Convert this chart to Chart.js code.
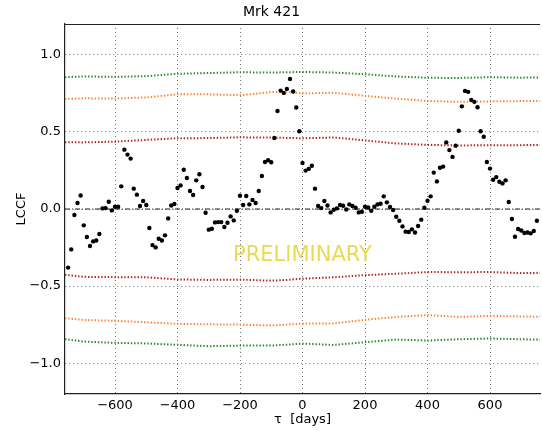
<!DOCTYPE html>
<html><head><meta charset="utf-8">
<script src="https://cdn.jsdelivr.net/npm/chart.js@4/dist/chart.umd.min.js"></script>
<style>html,body{margin:0;padding:0;overflow:hidden;background:#fff}#wrap{width:544px;height:430px}</style>
</head><body><div id="wrap"><canvas id="c" width="544" height="430"></canvas></div>
<script>
const title = "Mrk 421";
const xLabel = "\u03c4  [days]";
const yLabel = "LCCF";
const watermark = "PRELIMINARY";

const lags = [-750,-740,-730,-720,-710,-700,-690,-680,-670,-660,-650,-640,-630,-620,-610,-600,-590,-580,-570,-560,-550,-540,-530,-520,-510,-500,-490,-480,-470,-460,-450,-440,-430,-420,-410,-400,-390,-380,-370,-360,-350,-340,-330,-320,-310,-300,-290,-280,-270,-260,-250,-240,-230,-220,-210,-200,-190,-180,-170,-160,-150,-140,-130,-120,-110,-100,-90,-80,-70,-60,-50,-40,-30,-20,-10,0,10,20,30,40,50,60,70,80,90,100,110,120,130,140,150,160,170,180,190,200,210,220,230,240,250,260,270,280,290,300,310,320,330,340,350,360,370,380,390,400,410,420,430,440,450,460,470,480,490,500,510,520,530,540,550,560,570,580,590,600,610,620,630,640,650,660,670,680,690,700,710,720,730,740,750];
const lccf = [-0.380,-0.262,-0.039,0.039,0.088,-0.106,-0.182,-0.240,-0.210,-0.204,-0.162,0.004,0.006,0.047,-0.009,0.015,0.015,0.147,0.385,0.353,0.327,0.132,0.093,0.019,0.052,0.026,-0.123,-0.234,-0.249,-0.193,-0.204,-0.171,-0.061,0.023,0.032,0.136,0.153,0.255,0.201,0.117,0.091,0.186,0.225,0.143,-0.024,-0.134,-0.128,-0.087,-0.085,-0.085,-0.117,-0.089,-0.048,-0.074,-0.011,0.086,0.026,0.084,0.030,0.058,0.039,0.117,0.214,0.305,0.316,0.303,0.461,0.636,0.768,0.753,0.779,0.844,0.762,0.658,0.504,0.299,0.249,0.260,0.281,0.132,0.019,0.006,0.052,0.023,-0.022,-0.005,0.004,0.026,0.021,-0.003,0.030,0.019,0.008,-0.022,-0.018,0.015,0.010,-0.011,0.015,0.030,0.034,0.082,0.043,0.013,-0.006,-0.050,-0.076,-0.113,-0.147,-0.149,-0.132,-0.152,-0.110,-0.069,0.008,0.054,0.082,0.236,0.179,0.268,0.275,0.432,0.382,0.338,0.411,0.508,0.666,0.766,0.760,0.708,0.695,0.660,0.504,0.469,0.305,0.262,0.190,0.207,0.177,0.166,0.186,0.045,-0.065,-0.180,-0.130,-0.139,-0.156,-0.152,-0.158,-0.143,-0.076];

const bandLags = [-760,-700,-600,-500,-400,-300,-200,-100,-50,0,100,200,300,400,500,600,700,760];
const green99Hi  = [0.855,0.860,0.857,0.862,0.877,0.882,0.887,0.885,0.887,0.889,0.885,0.874,0.860,0.851,0.850,0.855,0.852,0.853];
const orange95Hi = [0.714,0.718,0.716,0.724,0.744,0.744,0.738,0.758,0.760,0.750,0.754,0.734,0.716,0.701,0.695,0.698,0.700,0.701];
const red68Hi    = [0.433,0.432,0.437,0.448,0.459,0.460,0.465,0.463,0.461,0.459,0.464,0.445,0.425,0.416,0.412,0.414,0.414,0.416];
const red68Lo    = [-0.427,-0.440,-0.442,-0.443,-0.457,-0.460,-0.458,-0.465,-0.460,-0.452,-0.443,-0.429,-0.420,-0.409,-0.410,-0.409,-0.416,-0.414];
const orange95Lo = [-0.708,-0.720,-0.725,-0.735,-0.745,-0.748,-0.750,-0.755,-0.750,-0.743,-0.742,-0.719,-0.700,-0.688,-0.700,-0.693,-0.697,-0.699];
const green99Lo  = [-0.844,-0.860,-0.868,-0.872,-0.881,-0.890,-0.886,-0.886,-0.880,-0.873,-0.882,-0.864,-0.847,-0.853,-0.845,-0.840,-0.845,-0.847];

const zeroLineX = [-760, 760];
const zeroLineY = [0, 0];

const xTicks = [-600,-400,-200,0,200,400,600];
const yTicks = [-1.0,-0.5,0.0,0.5,1.0];
const xRange = [-760, 760];
const yRange = [-1.2, 1.2];

const pts = (xs, ys) => xs.map((x, i) => ({x: x, y: ys[i]}));
const minus = s => s.replace('-', '\u2212');

Chart.defaults.font.family = "'DejaVu Sans', sans-serif";
Chart.defaults.color = '#000';

function band(data, color) {
  return {data: pts(bandLags, data), showLine: true, pointRadius: 0, borderColor: color,
          borderWidth: 2, borderDash: [1.4, 1.9], tension: 0, fill: false};
}

const extras = {
  id: 'extras',
  afterDraw(chart) {
    const ctx = chart.ctx, a = chart.chartArea;
    const ys = chart.scales.y;
    ctx.save();
    ctx.strokeStyle = '#222'; ctx.lineWidth = 1.2;
    ctx.beginPath(); ctx.moveTo(a.left, a.top + 0.5); ctx.lineTo(a.right, a.top + 0.5); ctx.stroke();
    ctx.fillStyle = 'rgba(232,212,50,0.85)';
    ctx.font = "21px 'DejaVu Sans', sans-serif";
    ctx.textAlign = 'center'; ctx.textBaseline = 'middle';
    ctx.fillText(watermark, (a.left + a.right) / 2, ys.getPixelForValue(-0.3));
    ctx.restore();
  }
};

new Chart(document.getElementById('c'), {
  type: 'scatter',
  data: {datasets: [
    {data: pts(lags, lccf), pointRadius: 2.2, pointBackgroundColor: '#000', pointBorderWidth: 0, showLine: false},
    {data: pts(zeroLineX, zeroLineY), showLine: true, pointRadius: 0, borderColor: '#222', borderWidth: 1, borderDash: [5, 2, 1, 2]},
    band(green99Hi, '#228b22'), band(orange95Hi, '#ff8030'), band(red68Hi, '#b42020'),
    band(red68Lo, '#b42020'), band(orange95Lo, '#ff8030'), band(green99Lo, '#228b22')
  ]},
  options: {
    responsive: false, animation: false, devicePixelRatio: 1,
    layout: {padding: {left: 0, right: 1, top: 0, bottom: 0}},
    plugins: {
      legend: {display: false}, tooltip: {enabled: false},
      title: {display: true, text: title, font: {size: 14, weight: 'normal'}, color: '#000',
              padding: {top: 4, bottom: 3.2}}
    },
    scales: {
      x: {type: 'linear', min: xRange[0], max: xRange[1],
          afterBuildTicks: s => { s.ticks = xTicks.map(v => ({value: v})); },
          afterFit: s => { s.height = 36; },
          ticks: {callback: v => minus(String(v)), font: {size: 13}, padding: 4, maxRotation: 0, color: '#000'},
          grid: {color: '#777', lineWidth: 1, drawTicks: false},
          border: {color: '#222', width: 1.2, dash: [1, 3]},
          title: {display: true, text: xLabel, font: {size: 13}, padding: {top: 0, bottom: 2.2}, color: '#000'}},
      y: {type: 'linear', min: yRange[0], max: yRange[1],
          afterBuildTicks: s => { s.ticks = yTicks.map(v => ({value: v})); },
          afterFit: s => { s.width = 65; },
          ticks: {callback: v => minus(Number(v).toFixed(1)), font: {size: 13}, padding: 4, color: '#000'},
          grid: {color: '#777', lineWidth: 1, drawTicks: false},
          border: {color: '#222', width: 1.2, dash: [1, 3]},
          title: {display: true, text: yLabel, font: {size: 13}, padding: {top: 14, bottom: 0}, color: '#000'}}
    }
  },
  plugins: [extras]
});
</script></body></html>
